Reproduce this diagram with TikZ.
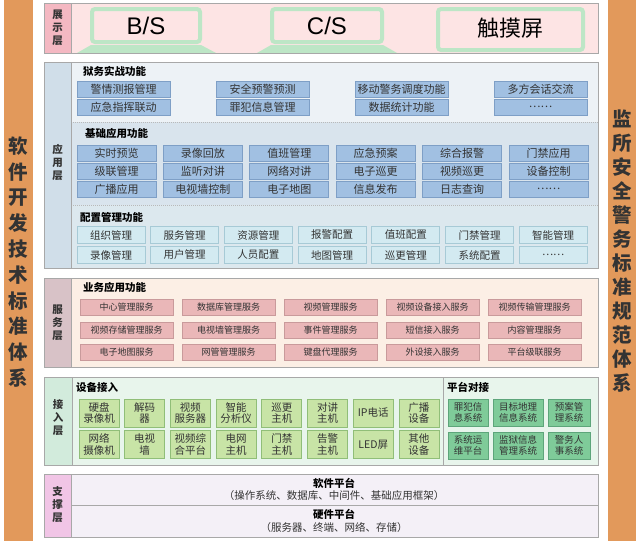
\documentclass[tikz,border=0pt]{standalone}
\usepackage{fontspec}
\setmainfont{Noto Sans CJK SC}
\newfontfamily\arialfont{Liberation Sans}
\usetikzlibrary{positioning}
% colours
\definecolor{sidebar}{HTML}{E2995B}
\definecolor{framegray}{HTML}{A8A8A8}
\definecolor{showbg}{HTML}{FDE4E4}
\definecolor{showlab}{HTML}{F4B8C2}
\definecolor{screen}{HTML}{BDE6C6}
\definecolor{appbg}{HTML}{EDF2F6}
\definecolor{basebg}{HTML}{D9E4ED}
\definecolor{cfgbg}{HTML}{DCE8EE}
\definecolor{applab}{HTML}{D0DEE9}
\definecolor{bluebox}{HTML}{A1C0E2}
\definecolor{blueedge}{HTML}{7E9FC6}
\definecolor{cyanbox}{HTML}{D3EAF1}
\definecolor{cyanedge}{HTML}{A7CAD6}
\definecolor{svcbg}{HTML}{FCEFE5}
\definecolor{svclab}{HTML}{D8C2C7}
\definecolor{pinkbox}{HTML}{EAB7B8}
\definecolor{pinkedge}{HTML}{C99A9B}
\definecolor{accbg}{HTML}{E8F5EC}
\definecolor{acclab}{HTML}{D2EBDC}
\definecolor{limebox}{HTML}{C8E4A6}
\definecolor{limeedge}{HTML}{90BE78}
\definecolor{greenbox}{HTML}{7FCB99}
\definecolor{greenedge}{HTML}{5DA57A}
\definecolor{supbg}{HTML}{F4F0F7}
\definecolor{suplab}{HTML}{F1C5E6}
\definecolor{inktext}{HTML}{333333}
\tikzset{
    %Define style for the layer frames
    layer/.style={draw=framegray, line width=0.9pt},
    %Define style for the vertical layer names
    laytitle/.style={align=center, inner sep=0pt, text=inktext,
           font=\fontsize{10.5}{13}\selectfont\bfseries},
    %Define style for the texts on the side bars
    sidetext/.style={align=center, inner sep=0pt, text=inktext,
           font=\fontsize{19.5}{25.8}\selectfont\bfseries},
    %Define style for section headings
    heading/.style={anchor=west, inner sep=0pt,
           font=\fontsize{10.5}{12}\selectfont\bfseries},
    % Define style for function boxes
    func/.style={
           rectangle,
           draw, line width=0.7pt,
           inner sep=0pt,
           text=inktext,
           align=center},
    jwbox/.style={func, fill=bluebox, draw=blueedge,
           minimum width=93pt, minimum height=16pt,
           font=\fontsize{11}{13}\selectfont},
    jcbox/.style={func, fill=bluebox, draw=blueedge,
           minimum width=79pt, minimum height=16pt,
           font=\fontsize{11}{13}\selectfont},
    pzbox/.style={func, fill=cyanbox, draw=cyanedge,
           minimum width=68pt, minimum height=17pt,
           font=\fontsize{10.5}{12}\selectfont},
    fwbox/.style={func, fill=pinkbox, draw=pinkedge,
           minimum width=93pt, minimum height=16pt,
           font=\fontsize{9}{11}\selectfont},
    sbbox/.style={func, fill=limebox, draw=limeedge,
           minimum width=40pt, minimum height=28pt,
           font=\fontsize{10.5}{11.5}\selectfont},
    ptbox/.style={func, fill=greenbox, draw=greenedge,
           minimum height=27pt,
           font=\fontsize{9.5}{11}\selectfont},
    % Define style for the screens
    screenline/.style={draw=screen, line width=4pt, rounded corners=3pt},
}
\begin{document}
\begin{tikzpicture}[x=1pt,y=-1pt]
\useasboundingbox (0,0) rectangle (640,541);
% side bars
\fill[sidebar] (4,0) rectangle (33,541);
\fill[sidebar] (608,0) rectangle (636,541);
\node[sidetext] (soft) at (18.5,262) {软\\件\\开\\发\\技\\术\\标\\准\\体\\系};
\node[sidetext, font=\fontsize{19.5}{24}\selectfont\bfseries] (norm) at (622,251)
      {监\\所\\安\\全\\警\\务\\标\\准\\规\\范\\体\\系};

% display layer
\fill[showbg] (44,3) rectangle (598,53);
\fill[showlab] (44,3) rectangle (71,53);
\draw[screenline] (92,9) rectangle (200,42);
\fill[screen] (91,45) -- (201,45) -- (216,53) -- (77,53) -- cycle;
\draw[screenline] (272,9) rectangle (382,42);
\fill[screen] (271,45) -- (383,45) -- (397,53) -- (257,53) -- cycle;
\draw[screenline] (438,9) rectangle (583,50);
\draw[layer] (44,3) rectangle (598,53);
\draw[layer] (71,3) -- (71,53);
\node[laytitle] (show) at (57.5,28) {展\\示\\层};
\node[font=\arialfont\fontsize{24}{26}\selectfont] (bs) at (146,26) {B/S};
\node[font=\arialfont\fontsize{24}{26}\selectfont] (cs) at (327,26) {C/S};
\node[font=\fontsize{22}{24}\selectfont] (touch) at (510,28) {触摸屏};

% application layer
\fill[applab] (44,62) rectangle (71,268);
\fill[appbg] (71,62) rectangle (598,122);
\fill[basebg] (71,122) rectangle (598,205);
\fill[cfgbg] (71,205) rectangle (598,268);
\draw[framegray!80, densely dotted, line width=1pt] (71,122) -- (598,122);
\draw[framegray!80, densely dotted, line width=1pt] (71,205) -- (598,205);
\draw[layer] (44,62) rectangle (598,268);
\draw[layer] (71,62) -- (71,268);
\node[laytitle] (app) at (57.5,162) {应\\用\\层};

\node[heading] (jw) at (83,71) {狱务实战功能};
\foreach \txt [count=\i from 0] in {警情测报管理,安全预警预测,移动警务调度功能,多方会话交流}
  \node[jwbox] (jw-a\i) at ({123.5+139*\i},89) {\txt};
\foreach \txt [count=\i from 0] in {应急指挥联动,罪犯信息管理,数据统计功能,……}
  \node[jwbox] (jw-b\i) at ({123.5+139*\i},107) {\txt};

\node[heading] (jc) at (85,133) {基础应用功能};
\foreach \txt [count=\i from 0] in {实时预览,录像回放,值班管理,应急预案,综合报警,门禁应用}
  \node[jcbox] (jc-a\i) at ({116.5+86.4*\i},153) {\txt};
\foreach \txt [count=\i from 0] in {级联管理,监听对讲,网络对讲,电子巡更,视频巡更,设备控制}
  \node[jcbox] (jc-b\i) at ({116.5+86.4*\i},171) {\txt};
\foreach \txt [count=\i from 0] in {广播应用,电视墙控制,电子地图,信息发布,日志查询,……}
  \node[jcbox] (jc-c\i) at ({116.5+86.4*\i},189) {\txt};

\node[heading] (pz) at (80,217) {配置管理功能};
\foreach \txt [count=\i from 0] in {组织管理,服务管理,资源管理,报警配置,值班配置,门禁管理,智能管理}
  \node[pzbox] (pz-a\i) at ({111+73.7*\i},235) {\txt};
\foreach \txt [count=\i from 0] in {录像管理,用户管理,人员配置,地图管理,巡更管理,系统配置,……}
  \node[pzbox] (pz-b\i) at ({111+73.7*\i},255) {\txt};

% service layer
\fill[svcbg] (44,278) rectangle (598,367);
\fill[svclab] (44,278) rectangle (71,367);
\draw[layer] (44,278) rectangle (598,367);
\draw[layer] (71,278) -- (71,367);
\node[laytitle] (svc) at (57.5,323) {服\\务\\层};
\node[heading] (yw) at (83,287) {业务应用功能};
\foreach \txt [count=\i from 0] in {中心管理服务,数据库管理服务,视频管理服务,视频设备接入服务,视频传输管理服务}
  \node[fwbox] (fw-a\i) at ({126.5+102*\i},307) {\txt};
\foreach \txt [count=\i from 0] in {视频存储管理服务,电视墙管理服务,事件管理服务,短信接入服务,内容管理服务}
  \node[fwbox] (fw-b\i) at ({126.5+102*\i},330) {\txt};
\foreach \txt [count=\i from 0] in {电子地图服务,网管管理服务,键盘代理服务,外设接入服务,平台级联服务}
  \node[fwbox] (fw-c\i) at ({126.5+102*\i},352) {\txt};

% access layer
\fill[accbg] (44,377) rectangle (598,465);
\fill[acclab] (44,377) rectangle (72,465);
\draw[layer] (44,377) rectangle (598,465);
\draw[layer] (72,377) -- (72,465);
\draw[layer] (443,377) -- (443,465);
\node[laytitle] (acc) at (58,418) {接\\入\\层};
\node[heading] (sb) at (76,387) {设备接入};
\node[heading] (pt) at (447,387) {平台对接};
\foreach \txt [count=\i from 0] in {硬盘\\录像机,解码\\器,视频\\服务器,智能\\分析仪,巡更\\主机,对讲\\主机,IP电话,广播\\设备}
  \node[sbbox] (sb-a\i) at ({99+45.7*\i},413) {\txt};
\foreach \txt [count=\i from 0] in {网络\\摄像机,电视\\墙,视频综\\合平台,电网\\主机,门禁\\主机,告警\\主机,LED屏,其他\\设备}
  \node[sbbox] (sb-b\i) at ({99+45.7*\i},444.5) {\txt};
\node[ptbox, minimum width=40pt] (pt-a0) at (468,412.5) {罪犯信\\息系统};
\node[ptbox, minimum width=50pt] (pt-a1) at (518,412.5) {目标地理\\信息系统};
\node[ptbox, minimum width=42pt] (pt-a2) at (569,412.5) {预案管\\理系统};
\node[ptbox, minimum width=40pt] (pt-b0) at (468,445.5) {系统运\\维平台};
\node[ptbox, minimum width=50pt] (pt-b1) at (518,445.5) {监狱信息\\管理系统};
\node[ptbox, minimum width=42pt] (pt-b2) at (569,445.5) {警务人\\事系统};

% support layer
\fill[supbg] (44,474) rectangle (598,537);
\fill[suplab] (44,474) rectangle (71,537);
\draw[layer] (44,474) rectangle (598,537);
\draw[layer] (71,474) -- (71,537);
\draw[layer] (71,505.5) -- (598,505.5);
\node[laytitle] (sup) at (57.5,505) {支\\撑\\层};
\node[font=\fontsize{10.5}{12}\selectfont\bfseries] (swp) at (334,483) {软件平台};
\node[font=\fontsize{10.5}{12}\selectfont, text=inktext] (swp-d) at (334,496)
      {（操作系统、数据库、中间件、基础应用框架）};
\node[font=\fontsize{10.5}{12}\selectfont\bfseries] (hwp) at (334,514.5) {硬件平台};
\node[font=\fontsize{10.5}{12}\selectfont, text=inktext] (hwp-d) at (334,527.5)
      {（服务器、终端、网络、存储）};
\end{tikzpicture}
\end{document}
